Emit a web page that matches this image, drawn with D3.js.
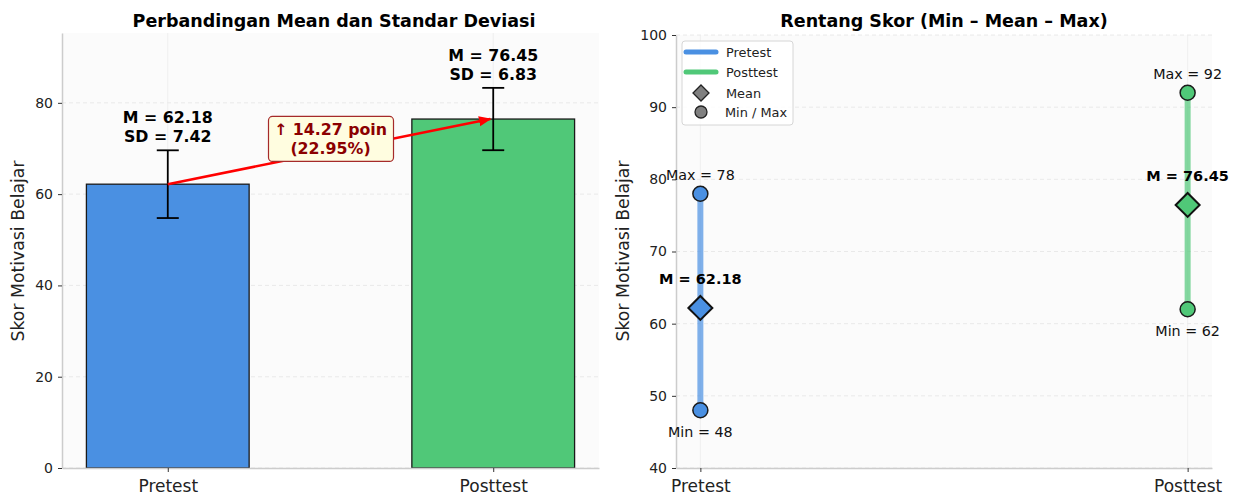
<html>

<head>
    <meta charset="utf-8">
    <style>
        body { margin: 0; background: #fff; }
        text { font-family: "DejaVu Sans", sans-serif; }
    </style>
</head>

<body>
    <script src="https://cdn.jsdelivr.net/npm/d3@7"></script>
    <script>
        // data
        var groups = ["Pretest", "Posttest"];
        var means = [62.18, 76.45];
        var sds = [7.42, 6.83];
        var mins = [48, 62];
        var maxs = [78, 92];
        var colors = ["#4a90e2", "#50c878"];
        var barTicks = [0, 20, 40, 60, 80];
        var rangeTicks = [40, 50, 60, 70, 80, 90, 100];

        var width = 1234, height = 498;
        var svg = d3.select("body").append("svg")
            .attr("width", width)
            .attr("height", height);

        var defs = svg.append("defs");
        defs.append("marker")
            .attr("id", "arrowhead")
            .attr("viewBox", "0 0 10 10")
            .attr("refX", 9).attr("refY", 5)
            .attr("markerWidth", 5).attr("markerHeight", 5)
            .attr("markerUnits", "strokeWidth")
            .attr("orient", "auto")
            .append("path")
            .attr("d", "M0,1 L10,5 L0,9 Z")
            .attr("fill", "red");

        function styleAxis(g) {
            g.select(".domain").attr("stroke", "#cccccc").attr("stroke-width", 1.5);
            g.selectAll(".tick line").attr("stroke", "#333");
            g.selectAll(".tick text").attr("fill", "#222").style("font-family", "DejaVu Sans");
        }

        // ---------- left panel: bars ----------
        var x1 = d3.scaleLinear().domain([-0.325, 1.325]).range([62, 599]);
        var y1 = d3.scaleLinear().domain([0, 95.3]).range([468, 33]);

        var g1 = svg.append("g");
        g1.append("rect")
            .attr("x", x1.range()[0]).attr("y", y1.range()[1])
            .attr("width", x1.range()[1] - x1.range()[0])
            .attr("height", y1.range()[0] - y1.range()[1])
            .attr("fill", "#fbfbfb");

        g1.selectAll(".hgrid").data(barTicks).enter().append("line")
            .attr("x1", x1.range()[0]).attr("x2", x1.range()[1])
            .attr("y1", d => y1(d)).attr("y2", d => y1(d))
            .attr("stroke", "#e4e4e4").attr("stroke-dasharray", "4,3").attr("stroke-width", 0.8);
        g1.selectAll(".vgrid").data(groups).enter().append("line")
            .attr("x1", (d, i) => x1(i)).attr("x2", (d, i) => x1(i))
            .attr("y1", y1.range()[0]).attr("y2", y1.range()[1])
            .attr("stroke", "#ececec").attr("stroke-width", 0.8);

        g1.selectAll(".bar").data(means).enter().append("rect")
            .attr("x", (d, i) => x1(i - 0.25))
            .attr("width", x1(0.25) - x1(-0.25))
            .attr("y", d => y1(d))
            .attr("height", d => y1(0) - y1(d))
            .attr("fill", (d, i) => colors[i])
            .attr("stroke", "#1a1a1a").attr("stroke-width", 1.3);

        // error bars
        var err = g1.selectAll(".err").data(means).enter().append("g");
        err.append("line")
            .attr("x1", (d, i) => x1(i)).attr("x2", (d, i) => x1(i))
            .attr("y1", (d, i) => y1(d - sds[i])).attr("y2", (d, i) => y1(d + sds[i]))
            .attr("stroke", "#000").attr("stroke-width", 1.8);
        [-1, 1].forEach(function (s) {
            err.append("line")
                .attr("x1", (d, i) => x1(i) - 11).attr("x2", (d, i) => x1(i) + 11)
                .attr("y1", (d, i) => y1(d + s * sds[i])).attr("y2", (d, i) => y1(d + s * sds[i]))
                .attr("stroke", "#000").attr("stroke-width", 1.8);
        });

        // labels above error bars
        var lab = g1.selectAll(".lab").data(means).enter().append("text")
            .attr("text-anchor", "middle")
            .attr("font-size", 15.8).attr("font-weight", "bold").attr("fill", "#000");
        lab.append("tspan")
            .attr("x", (d, i) => x1(i))
            .attr("y", (d, i) => y1(d + sds[i]) - 27)
            .text(d => "M = " + d.toFixed(2));
        lab.append("tspan")
            .attr("x", (d, i) => x1(i))
            .attr("y", (d, i) => y1(d + sds[i]) - 8)
            .text((d, i) => "SD = " + sds[i].toFixed(2));

        // arrow + change box
        var diff = means[1] - means[0];
        var pct = diff / means[0] * 100;
        g1.append("line")
            .attr("x1", x1(0)).attr("y1", y1(means[0]))
            .attr("x2", x1(1) - 3).attr("y2", y1(means[1]))
            .attr("stroke", "red").attr("stroke-width", 2.5)
            .attr("marker-end", "url(#arrowhead)");
        var bx = x1(0.5), by = y1(72.2);
        g1.append("rect")
            .attr("x", bx - 62).attr("y", by - 22)
            .attr("width", 125).attr("height", 45)
            .attr("rx", 4)
            .attr("fill", "#fffde0").attr("stroke", "#a52a2a").attr("stroke-width", 1.2);
        var bt = g1.append("text")
            .attr("text-anchor", "middle").attr("font-size", 15.8)
            .attr("font-weight", "bold").attr("fill", "#8b0000");
        bt.append("tspan").attr("x", bx).attr("y", by - 3).text("\u2191 " + diff.toFixed(2) + " poin");
        bt.append("tspan").attr("x", bx).attr("y", by + 16).text("(" + pct.toFixed(2) + "%)");

        g1.append("g").attr("transform", "translate(" + x1.range()[0] + ",0)")
            .call(d3.axisLeft(y1).tickValues(barTicks).tickSize(4).tickPadding(5).tickSizeOuter(0))
            .call(styleAxis)
            .selectAll(".tick text").attr("font-size", 14);
        g1.append("g").attr("transform", "translate(0," + y1(0) + ")")
            .call(d3.axisBottom(x1).tickValues([0, 1]).tickFormat(i => groups[i]).tickSize(4).tickSizeOuter(0))
            .call(styleAxis)
            .selectAll(".tick text").attr("font-size", 17).attr("dy", "1.0em");

        g1.append("text").attr("x", 334).attr("y", 27)
            .attr("text-anchor", "middle").attr("font-size", 17.5).attr("font-weight", "bold")
            .text("Perbandingan Mean dan Standar Deviasi");
        g1.append("text")
            .attr("transform", "translate(24,251) rotate(-90)")
            .attr("text-anchor", "middle").attr("font-size", 17.3).attr("fill", "#222")
            .text("Skor Motivasi Belajar");

        // ---------- right panel: ranges ----------
        var x2 = d3.scaleLinear().domain([-0.05, 1.05]).range([676, 1212]);
        var y2 = d3.scaleLinear().domain([40, 100]).range([468, 35]);

        var g2 = svg.append("g");
        g2.append("rect")
            .attr("x", x2.range()[0]).attr("y", y2.range()[1])
            .attr("width", x2.range()[1] - x2.range()[0])
            .attr("height", y2.range()[0] - y2.range()[1])
            .attr("fill", "#fbfbfb");
        g2.selectAll(".hgrid").data(rangeTicks).enter().append("line")
            .attr("x1", x2.range()[0]).attr("x2", x2.range()[1])
            .attr("y1", d => y2(d)).attr("y2", d => y2(d))
            .attr("stroke", "#e4e4e4").attr("stroke-dasharray", "4,3").attr("stroke-width", 0.8);
        g2.selectAll(".vgrid").data(groups).enter().append("line")
            .attr("x1", (d, i) => x2(i)).attr("x2", (d, i) => x2(i))
            .attr("y1", y2.range()[0]).attr("y2", y2.range()[1])
            .attr("stroke", "#ececec").attr("stroke-width", 0.8);

        g2.append("g").attr("transform", "translate(" + x2.range()[0] + ",0)")
            .call(d3.axisLeft(y2).tickValues(rangeTicks).tickSize(4).tickPadding(5).tickSizeOuter(0))
            .call(styleAxis)
            .selectAll(".tick text").attr("font-size", 14);
        g2.append("g").attr("transform", "translate(0," + y2(40) + ")")
            .call(d3.axisBottom(x2).tickValues([0, 1]).tickFormat(i => groups[i]).tickSize(4).tickSizeOuter(0))
            .call(styleAxis)
            .selectAll(".tick text").attr("font-size", 17).attr("dy", "1.0em");

        g2.selectAll(".range").data(groups).enter().append("line")
            .attr("x1", (d, i) => x2(i)).attr("x2", (d, i) => x2(i))
            .attr("y1", (d, i) => y2(mins[i])).attr("y2", (d, i) => y2(maxs[i]))
            .attr("stroke", (d, i) => colors[i]).attr("stroke-opacity", 0.7).attr("stroke-width", 6);

        [mins, maxs].forEach(function (arr) {
            g2.selectAll(null).data(arr).enter().append("circle")
                .attr("cx", (d, i) => x2(i)).attr("cy", d => y2(d)).attr("r", 7.5)
                .attr("fill", (d, i) => colors[i]).attr("stroke", "#1a1a1a").attr("stroke-width", 1.5);
        });
        g2.selectAll(".mean").data(means).enter().append("path")
            .attr("transform", (d, i) => "translate(" + x2(i) + "," + y2(d) + ")")
            .attr("d", "M0,-12 L12,0 L0,12 L-12,0 Z")
            .attr("fill", (d, i) => colors[i]).attr("stroke", "#111").attr("stroke-width", 2);

        g2.selectAll(".maxlab").data(maxs).enter().append("text")
            .attr("x", (d, i) => x2(i)).attr("y", d => y2(d) - 14)
            .attr("text-anchor", "middle").attr("font-size", 14.3).attr("fill", "#111")
            .text(d => "Max = " + d);
        g2.selectAll(".minlab").data(mins).enter().append("text")
            .attr("x", (d, i) => x2(i)).attr("y", d => y2(d) + 27)
            .attr("text-anchor", "middle").attr("font-size", 14.3).attr("fill", "#111")
            .text(d => "Min = " + d);
        g2.selectAll(".meanlab").data(means).enter().append("text")
            .attr("x", (d, i) => x2(i)).attr("y", d => y2(d) - 24)
            .attr("text-anchor", "middle").attr("font-size", 14.5).attr("font-weight", "bold").attr("fill", "#000")
            .text(d => "M = " + d.toFixed(2));

        // legend
        var lg = g2.append("g").attr("transform", "translate(682,41)");
        lg.append("rect").attr("width", 111).attr("height", 84).attr("rx", 3)
            .attr("fill", "#fff").attr("fill-opacity", 0.85).attr("stroke", "#d6d6d6");
        groups.forEach(function (name, i) {
            lg.append("line").attr("x1", 4).attr("x2", 34).attr("y1", 11 + i * 20).attr("y2", 11 + i * 20)
                .attr("stroke", colors[i]).attr("stroke-width", 5).attr("stroke-linecap", "round");
            lg.append("text").attr("x", 44).attr("y", 16 + i * 20).attr("font-size", 12.9).attr("fill", "#222").text(name);
        });
        lg.append("path").attr("transform", "translate(19,52)").attr("d", "M0,-8 L8,0 L0,8 L-8,0 Z")
            .attr("fill", "#808080").attr("stroke", "#222").attr("stroke-width", 1.3);
        lg.append("text").attr("x", 44).attr("y", 57).attr("font-size", 12.9).attr("fill", "#222").text("Mean");
        lg.append("circle").attr("cx", 19).attr("cy", 71).attr("r", 6)
            .attr("fill", "#808080").attr("stroke", "#222").attr("stroke-width", 1.3);
        lg.append("text").attr("x", 43).attr("y", 76).attr("font-size", 12.9).attr("fill", "#222").text("Min / Max");

        g2.append("text").attr("x", 944).attr("y", 27)
            .attr("text-anchor", "middle").attr("font-size", 17.5).attr("font-weight", "bold")
            .text("Rentang Skor (Min \u2013 Mean \u2013 Max)");
        g2.append("text")
            .attr("transform", "translate(629,251) rotate(-90)")
            .attr("text-anchor", "middle").attr("font-size", 17.3).attr("fill", "#222")
            .text("Skor Motivasi Belajar");
    </script>
</body>

</html>
